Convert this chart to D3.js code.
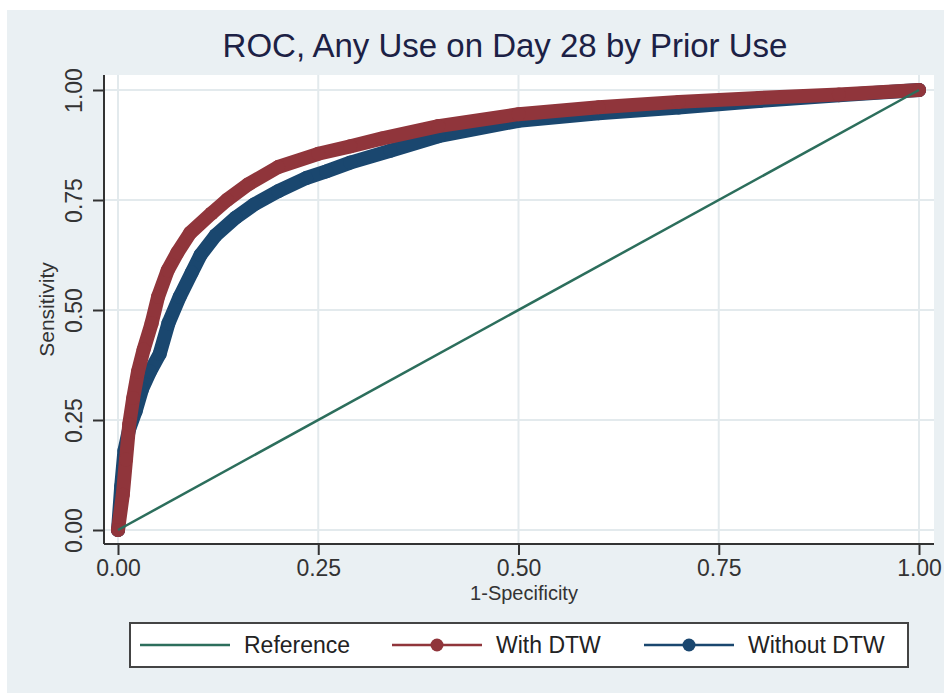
<!DOCTYPE html>
<html>
<head>
<meta charset="utf-8">
<script src="https://cdn.jsdelivr.net/npm/d3@7"></script>
<style>
  body { margin: 0; background: #fff; }
  text { font-family: "Liberation Sans", Arial, sans-serif; }
</style>
</head>
<body>
<script>
let width = 944
let height = 693

// data
let xTicks = [0, 0.25, 0.5, 0.75, 1]
let yTicks = [0, 0.25, 0.5, 0.75, 1]
let refFpr = [0, 1]
let refSens = [0, 1]
let withFpr = [0, 0.006, 0.01, 0.014, 0.019, 0.025, 0.032, 0.042, 0.05, 0.062, 0.074, 0.09, 0.117, 0.136, 0.162, 0.2, 0.25, 0.29, 0.33, 0.4, 0.5, 0.6, 0.7, 0.8, 0.9, 1]
let withSens = [0, 0.08, 0.16, 0.24, 0.3, 0.36, 0.41, 0.47, 0.53, 0.59, 0.63, 0.675, 0.72, 0.75, 0.785, 0.825, 0.855, 0.872, 0.89, 0.918, 0.945, 0.961, 0.973, 0.982, 0.99, 1]
let withoutFpr = [0, 0.004, 0.008, 0.014, 0.022, 0.03, 0.04, 0.052, 0.063, 0.077, 0.092, 0.103, 0.122, 0.147, 0.17, 0.2, 0.235, 0.26, 0.29, 0.34, 0.4, 0.5, 0.6, 0.7, 0.8, 0.9, 1]
let withoutSens = [0, 0.1, 0.18, 0.23, 0.27, 0.32, 0.36, 0.4, 0.47, 0.53, 0.585, 0.625, 0.67, 0.71, 0.74, 0.77, 0.8, 0.815, 0.835, 0.862, 0.895, 0.93, 0.947, 0.96, 0.975, 0.988, 1]
let legendNames = ['Reference', 'With DTW', 'Without DTW']

let green = '#2c6e5c'
let red = '#90353b'
let blue = '#1a476f'

let svg = d3.select('body').append('svg')
  .attr('width', width)
  .attr('height', height)

// graph region
svg.append('rect')
  .attr('x', 7).attr('y', 10)
  .attr('width', width - 7).attr('height', height - 10)
  .style('fill', '#eaf0f3')

let plotLeft = 104, plotRight = 934, plotTop = 75, plotBottom = 544

svg.append('rect')
  .attr('x', plotLeft).attr('y', plotTop)
  .attr('width', plotRight - plotLeft).attr('height', plotBottom - plotTop)
  .style('fill', '#fff')

let x = d3.scaleLinear().domain([0, 1]).range([118, 919])
let y = d3.scaleLinear().domain([0, 1]).range([530, 90])

// grid
svg.append('g').selectAll('line').data(xTicks).join('line')
  .attr('x1', d => x(d)).attr('x2', d => x(d))
  .attr('y1', plotTop).attr('y2', plotBottom)
  .style('stroke', '#e3eaed').style('stroke-width', 2)

svg.append('g').selectAll('line').data(yTicks).join('line')
  .attr('x1', plotLeft).attr('x2', plotRight)
  .attr('y1', d => y(d)).attr('y2', d => y(d))
  .style('stroke', '#e3eaed').style('stroke-width', 2)

// axes
let fmt = d3.format('.2f')

let xAxis = svg.append('g')
  .attr('transform', 'translate(0,' + plotBottom + ')')
  .call(d3.axisBottom(x).tickValues(xTicks).tickFormat(fmt).tickSize(11).tickSizeOuter(0).tickPadding(5))
xAxis.select('.domain').remove()
xAxis.selectAll('line').style('stroke', '#333').style('stroke-width', 2)
xAxis.selectAll('text').style('font-size', '23px').style('fill', '#333')
  .attr('dy', null).attr('y', 32)

let yAxis = svg.append('g')
  .attr('transform', 'translate(' + plotLeft + ',0)')
  .call(d3.axisLeft(y).tickValues(yTicks).tickFormat(fmt).tickSize(11).tickSizeOuter(0))
yAxis.select('.domain').remove()
yAxis.selectAll('line').style('stroke', '#333').style('stroke-width', 2)
yAxis.selectAll('text')
  .attr('x', null).attr('dy', null).attr('y', null)
  .attr('transform', 'translate(-22,0) rotate(-90)')
  .style('text-anchor', 'middle')
  .style('font-size', '23px').style('fill', '#333')

svg.append('line')
  .attr('x1', plotLeft).attr('x2', plotRight)
  .attr('y1', plotBottom).attr('y2', plotBottom)
  .style('stroke', '#333').style('stroke-width', 2)

svg.append('line')
  .attr('x1', plotLeft).attr('x2', plotLeft)
  .attr('y1', plotTop).attr('y2', plotBottom)
  .style('stroke', '#333').style('stroke-width', 2)

// curves
let line = d3.line().x(d => x(d[0])).y(d => y(d[1]))

function curve(fpr, sens, color) {
  let pts = fpr.map((f, i) => [f, sens[i]])
  svg.append('path')
    .attr('d', line(pts))
    .style('fill', 'none')
    .style('stroke', color)
    .style('stroke-width', 14)
    .style('stroke-linejoin', 'round')
    .style('stroke-linecap', 'round')
  svg.append('g').selectAll('circle').data(pts).join('circle')
    .attr('cx', d => x(d[0])).attr('cy', d => y(d[1]))
    .attr('r', 7)
    .style('fill', color)
}

curve(withoutFpr, withoutSens, blue)
curve(withFpr, withSens, red)

svg.append('path')
  .attr('d', line(refFpr.map((f, i) => [f, refSens[i]])))
  .style('fill', 'none')
  .style('stroke', green)
  .style('stroke-width', 2.5)

// titles
svg.append('text')
  .attr('x', 505).attr('y', 57)
  .style('text-anchor', 'middle')
  .style('font-size', '33px')
  .style('fill', '#1c2145')
  .text('ROC, Any Use on Day 28 by Prior Use')

svg.append('text')
  .attr('x', 524).attr('y', 600)
  .style('text-anchor', 'middle')
  .style('font-size', '20px')
  .style('fill', '#333')
  .text('1-Specificity')

svg.append('text')
  .attr('transform', 'translate(54,' + (plotTop + plotBottom) / 2 + ') rotate(-90)')
  .style('text-anchor', 'middle')
  .style('font-size', '21px')
  .style('fill', '#333')
  .text('Sensitivity')

// legend
let legend = svg.append('g')
legend.append('rect')
  .attr('x', 130).attr('y', 623)
  .attr('width', 778).attr('height', 44)
  .style('fill', '#fff')
  .style('stroke', '#444')
  .style('stroke-width', 2)

let keyX = [140, 392, 644]
let keyColors = [green, red, blue]
let keys = legend.selectAll('g.key').data(legendNames).join('g')
  .attr('class', 'key')
  .attr('transform', (d, i) => 'translate(' + keyX[i] + ',645)')

keys.append('line')
  .attr('x1', 0).attr('x2', 90)
  .style('stroke', (d, i) => keyColors[i])
  .style('stroke-width', 2.5)

keys.filter((d, i) => i > 0).append('circle')
  .attr('cx', 45).attr('r', 6.5)
  .style('fill', (d, i) => keyColors[i + 1])

keys.append('text')
  .attr('x', 104).attr('y', 8)
  .style('font-size', '23px')
  .style('fill', '#222')
  .text(d => d)
</script>
</body>
</html>
